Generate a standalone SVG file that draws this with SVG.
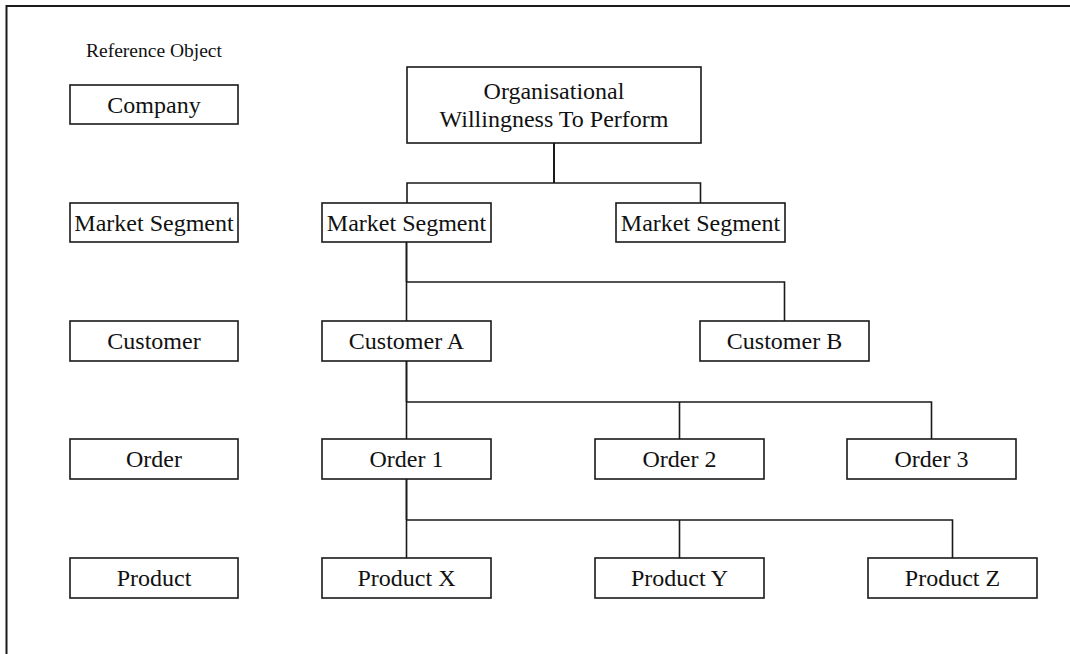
<svg xmlns="http://www.w3.org/2000/svg" width="1070" height="654" viewBox="0 0 1070 654">
<style>
  .box rect { fill: #ffffff; stroke: #1a1a1a; stroke-width: 1.6; }
  .box text { font-family: "Liberation Serif", "Times New Roman", serif; font-size: 24px; fill: #111111; text-anchor: middle; }
  .title { font-family: "Liberation Serif", "Times New Roman", serif; font-size: 19.5px; fill: #111111; text-anchor: middle; }
  #connectors path { fill: none; stroke: #1a1a1a; stroke-width: 1.6; }
  #connectors path.trunk { stroke-width: 2; }
</style>
<rect width="1070" height="654" fill="#ffffff"/>
<path d="M6.5,654 V6 H1070" fill="none" stroke="#1a1a1a" stroke-width="2"/>
<text class="title" x="154" y="57">Reference Object</text>

<g id="connectors">
  <path class="trunk" d="M554,143 V183"/>
  <path d="M407,203 V183 H700.5 V203"/>
  <path class="trunk" d="M406.5,242 V282"/>
  <path d="M406.5,282 V321 M406.5,282 H784.5 V321"/>
  <path class="trunk" d="M406.5,361 V402"/>
  <path d="M406.5,402 V439 M406.5,402 H931.5 V439 M679.5,402 V439"/>
  <path class="trunk" d="M406.5,479 V520"/>
  <path d="M406.5,520 V558 M406.5,520 H952.5 V558 M679.5,520 V558"/>
</g>

<g id="ref-company" class="box"><rect x="70" y="85" width="168" height="39"/><text x="154" y="113">Company</text></g>
<g id="ref-market-segment" class="box"><rect x="70" y="203" width="168" height="39"/><text x="154" y="231">Market Segment</text></g>
<g id="ref-customer" class="box"><rect x="70" y="321" width="168" height="40"/><text x="154" y="349">Customer</text></g>
<g id="ref-order" class="box"><rect x="70" y="439" width="168" height="40"/><text x="154" y="467">Order</text></g>
<g id="ref-product" class="box"><rect x="70" y="558" width="168" height="40"/><text x="154" y="586">Product</text></g>

<g id="org" class="box"><rect x="407" y="67" width="294" height="76"/><text x="554" y="99">Organisational</text><text x="554" y="127">Willingness To Perform</text></g>
<g id="market-segment-1" class="box"><rect x="322" y="203" width="169" height="39"/><text x="406.5" y="231">Market Segment</text></g>
<g id="market-segment-2" class="box"><rect x="616" y="203" width="169" height="39"/><text x="700.5" y="231">Market Segment</text></g>
<g id="customer-a" class="box"><rect x="322" y="321" width="169" height="40"/><text x="406.5" y="349">Customer A</text></g>
<g id="customer-b" class="box"><rect x="700" y="321" width="169" height="40"/><text x="784.5" y="349">Customer B</text></g>
<g id="order-1" class="box"><rect x="322" y="439" width="169" height="40"/><text x="406.5" y="467">Order 1</text></g>
<g id="order-2" class="box"><rect x="595" y="439" width="169" height="40"/><text x="679.5" y="467">Order 2</text></g>
<g id="order-3" class="box"><rect x="847" y="439" width="169" height="40"/><text x="931.5" y="467">Order 3</text></g>
<g id="product-x" class="box"><rect x="322" y="558" width="169" height="40"/><text x="406.5" y="586">Product X</text></g>
<g id="product-y" class="box"><rect x="595" y="558" width="169" height="40"/><text x="679.5" y="586">Product Y</text></g>
<g id="product-z" class="box"><rect x="868" y="558" width="169" height="40"/><text x="952.5" y="586">Product Z</text></g>
</svg>
